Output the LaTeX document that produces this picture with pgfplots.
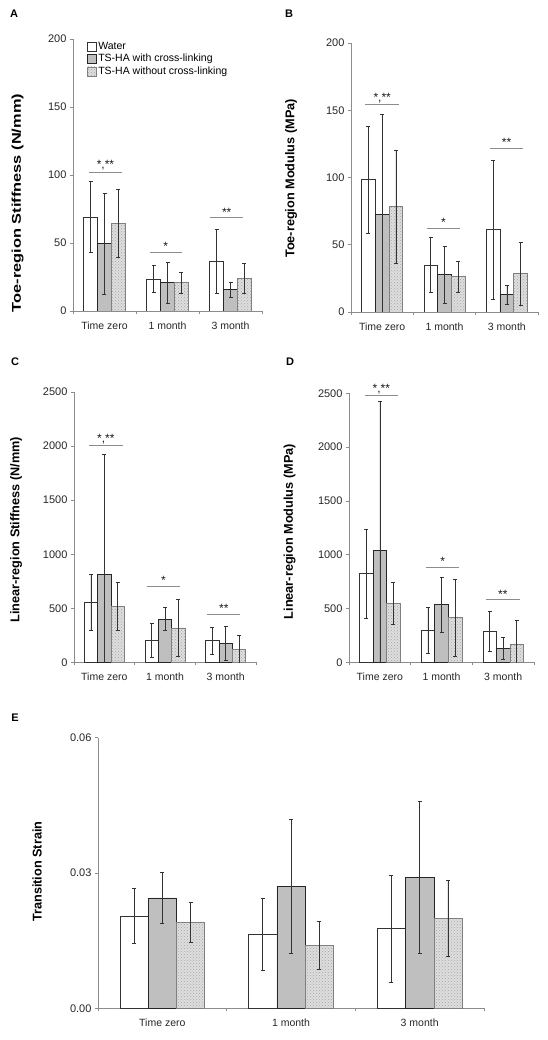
\documentclass[border=0pt]{standalone}
\usepackage{fontspec}
\setmainfont{Liberation Sans}
\usepackage{graphicx}
\usepackage{pgfplots}
\pgfplotsset{compat=1.18}
\usetikzlibrary{patterns}

\pgfplotsset{
  panel/.style={
    scale only axis, ybar=0pt, bar width=0.22,
    xmin=-0.5, xmax=2.5, ymin=0,
    enlargelimits=false,
    axis lines*=left,
    axis line style={draw=black!45, line width=0.6pt},
    tick style={draw=black!45, line width=0.6pt},
    tick align=outside, major tick length=3pt,
    xtick={-0.5,0.5,1.5,2.5}, x tick label as interval,
    xticklabels={Time zero,1 month,3 month},
    xticklabel style={font=\fontsize{10.5}{12}\selectfont, text=black!85, yshift=-4pt},
    yticklabel style={font=\fontsize{11}{13}\selectfont, text=black!85},
    /pgf/number format/assume math mode=true,
    /pgf/number format/set thousands separator={},
    scaled y ticks=false,
    clip mode=individual,
    every axis plot/.append style={error bars/y dir=both, error bars/y explicit,
      error bars/error bar style={black!80, line width=0.6pt},
      error bars/error mark options={rotate=90, black!80, line width=0.6pt, mark size=2pt}},
    legend image code/.code={\draw[#1] (0pt,-4.5pt) rectangle (9pt,4.5pt);},
  },
}
\tikzset{
  water/.style={draw=black!80, fill=white, line width=0.6pt},
  withcl/.style={draw=black!85, fill=black!25, line width=0.6pt},
  withoutcl/.style={draw=black!50, fill=black!13, postaction={pattern=crosshatch dots, pattern color=black!35}, line width=0.6pt},
  sig/.style={draw=black!45, line width=0.6pt},
  star/.style={anchor=south, font=\fontsize{12}{13}\selectfont, inner sep=1.2pt, text=black!90},
}

\begin{document}
\begin{tikzpicture}[x=1pt,y=1pt]
\useasboundingbox (0pt,0pt) rectangle (547pt,1040pt);

% panel letters
\node[font=\fontsize{11}{13}\selectfont\bfseries] at (14pt,1026pt) {A};
\node[font=\fontsize{11}{13}\selectfont\bfseries] at (289pt,1026pt) {B};
\node[font=\fontsize{11}{13}\selectfont\bfseries] at (15pt,678pt) {C};
\node[font=\fontsize{11}{13}\selectfont\bfseries] at (290pt,678pt) {D};
\node[font=\fontsize{11}{13}\selectfont\bfseries] at (15pt,322pt) {E};

% y labels
\node[rotate=90, font=\fontsize{12.7}{14}\selectfont\bfseries] at (17.5pt,837pt) {\scalebox{1.29}[1]{Toe-region Stiffness (N/mm)}};
\node[rotate=90, font=\fontsize{12.7}{14}\selectfont\bfseries] at (291pt,861.5pt) {Toe-region Modulus (MPa)};
\node[rotate=90, font=\fontsize{12.7}{14}\selectfont\bfseries] at (16pt,510.3pt) {Linear-region Stiffness (N/mm)};
\node[rotate=90, font=\fontsize{12.7}{14}\selectfont\bfseries] at (289.5pt,508.3pt) {Linear-region Modulus (MPa)};
\node[rotate=90, font=\fontsize{12.7}{14}\selectfont\bfseries] at (37pt,168.3pt) {Transition Strain};

% ---------------- A ----------------
\begin{axis}[panel, at={(73pt,729pt)}, anchor=south west, width=189pt, height=272pt,
  ymax=200, ytick={0,50,100,150,200},
  legend style={at={(0.074,0.995)}, anchor=north west, draw=none, fill=none,
    font=\fontsize{10.5}{12}\selectfont, row sep=0.5pt, inner sep=0pt,
    nodes={inner sep=1.5pt}},
  legend cell align=left]
\addplot[water] coordinates {(0,69) +- (0,26) (1,23.5) +- (0,10) (2,36.5) +- (0,23.4)};
\addlegendentry{Water}
\addplot[withcl] coordinates {(0,49.5) +- (0,37) (1,20.8) +- (0,15.3) (2,15.9) +- (0,5.5)};
\addlegendentry{TS-HA with cross-linking}
\addplot[withoutcl] coordinates {(0,64.4) +- (0,25) (1,20.8) +- (0,7.8) (2,24) +- (0,11.3)};
\addlegendentry{TS-HA without cross-linking}
\draw[sig] (axis cs:-0.25,102.3) -- (axis cs:0.28,102.3);
\node[star] at (axis cs:0.015,102.3) {*,**};
\draw[sig] (axis cs:0.72,43.1) -- (axis cs:1.225,43.1);
\node[star] at (axis cs:0.97,43.1) {*};
\draw[sig] (axis cs:1.68,68.8) -- (axis cs:2.2,68.8);
\node[star] at (axis cs:1.94,68.8) {**};
\end{axis}

% ---------------- B ----------------
\begin{axis}[panel, at={(351pt,728pt)}, anchor=south west, width=187pt, height=269pt,
  ymax=200, ytick={0,50,100,150,200}]
\addplot[water] coordinates {(0,98.5) +- (0,39.7) (1,35) +- (0,20.2) (2,61.3) +- (0,51.5)};
\addplot[withcl] coordinates {(0,72.5) +- (0,74.4) (1,27.8) +- (0,21.1) (2,12.9) +- (0,7.2)};
\addplot[withoutcl] coordinates {(0,78.4) +- (0,42) (1,26.3) +- (0,11.4) (2,28.5) +- (0,23.2)};
\draw[sig] (axis cs:-0.27,154.6) -- (axis cs:0.27,154.6);
\node[star] at (axis cs:0,154.6) {*,**};
\draw[sig] (axis cs:0.72,62.5) -- (axis cs:1.25,62.5);
\node[star] at (axis cs:0.985,62.5) {*};
\draw[sig] (axis cs:1.73,121.8) -- (axis cs:2.26,121.8);
\node[star] at (axis cs:1.995,121.8) {**};
\end{axis}

% ---------------- C ----------------
\begin{axis}[panel, at={(74pt,377.5pt)}, anchor=south west, width=182pt, height=270.5pt,
  ymax=2500, ytick={0,500,1000,1500,2000,2500}]
\addplot[water] coordinates {(0,557) +- (0,255) (1,206) +- (0,157) (2,203) +- (0,123)};
\addplot[withcl] coordinates {(0,815) +- (0,1108) (1,400) +- (0,106) (2,175) +- (0,158)};
\addplot[withoutcl] coordinates {(0,520) +- (0,225) (1,320) +- (0,265) (2,120) +- (0,129)};
\draw[sig] (axis cs:-0.25,2003) -- (axis cs:0.3,2003);
\node[star] at (axis cs:0.025,2003) {*,**};
\draw[sig] (axis cs:0.7,705) -- (axis cs:1.25,705);
\node[star] at (axis cs:0.975,705) {*};
\draw[sig] (axis cs:1.7,445) -- (axis cs:2.24,445);
\node[star] at (axis cs:1.97,445) {**};
\end{axis}

% ---------------- D ----------------
\begin{axis}[panel, at={(349pt,377.7pt)}, anchor=south west, width=185pt, height=269pt,
  ymax=2500, ytick={0,500,1000,1500,2000,2500}]
\addplot[water] coordinates {(0,824) +- (0,412) (1,298) +- (0,211) (2,287) +- (0,185)};
\addplot[withcl] coordinates {(0,1040) +- (0,1389) (1,537) +- (0,257) (2,130) +- (0,99)};
\addplot[withoutcl] coordinates {(0,549) +- (0,193) (1,417) +- (0,358) (2,163) +- (0,226)};
\draw[sig] (axis cs:-0.24,2478) -- (axis cs:0.29,2478);
\node[star] at (axis cs:0.025,2478) {*,**};
\draw[sig] (axis cs:0.75,883) -- (axis cs:1.29,883);
\node[star] at (axis cs:1.02,883) {*};
\draw[sig] (axis cs:1.72,583) -- (axis cs:2.27,583);
\node[star] at (axis cs:1.995,583) {**};
\end{axis}

% ---------------- E ----------------
\begin{axis}[panel, at={(98pt,31.7pt)}, anchor=south west, width=386pt, height=270.6pt,
  ymax=0.06, ytick={0,0.03,0.06},
  yticklabel style={/pgf/number format/fixed, /pgf/number format/fixed zerofill,
    /pgf/number format/precision=2}]
\addplot[water] coordinates {(0,0.0205) +- (0,0.0060) (1,0.0164) +- (0,0.0080) (2,0.0177) +- (0,0.0119)};
\addplot[withcl] coordinates {(0,0.0245) +- (0,0.0057) (1,0.0271) +- (0,0.0149) (2,0.0291) +- (0,0.0169)};
\addplot[withoutcl] coordinates {(0,0.0190) +- (0,0.0044) (1,0.0140) +- (0,0.0053) (2,0.0199) +- (0,0.0084)};
\end{axis}
\end{tikzpicture}
\end{document}
